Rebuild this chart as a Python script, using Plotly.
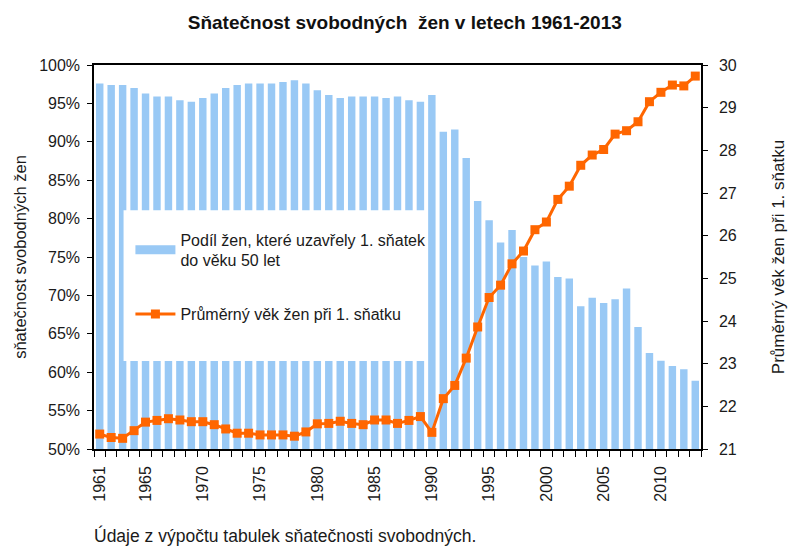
import plotly.graph_objects as go

years = list(range(1961, 2014))

# podil zen, ktere uzavrely 1. snatek do veku 50 let (%)
share_married = [
    97.6, 97.4, 97.4, 97.0, 96.3, 95.9, 95.9, 95.4, 95.2, 95.7,
    96.3, 97.0, 97.4, 97.6, 97.6, 97.6, 97.8, 98.0, 97.6, 96.7,
    96.1, 95.7, 95.9, 95.9, 95.9, 95.7, 95.9, 95.4, 95.2, 96.1,
    91.3, 91.6, 87.9, 82.3, 79.8, 76.9, 78.5, 75.0, 73.9, 74.4,
    72.4, 72.2, 68.6, 69.7, 69.0, 69.5, 70.9, 65.9, 62.5, 61.5,
    60.8, 60.4, 58.9,
]

# prumerny vek zen pri 1. snatku
mean_age = [
    21.35, 21.27, 21.25, 21.43, 21.63, 21.67, 21.71, 21.68, 21.64, 21.64,
    21.57, 21.47, 21.37, 21.37, 21.33, 21.33, 21.33, 21.30, 21.40, 21.59,
    21.60, 21.65, 21.60, 21.57, 21.68, 21.68, 21.60, 21.67, 21.76, 21.39,
    22.18, 22.49, 23.13, 23.86, 24.55, 24.84, 25.34, 25.64, 26.14, 26.32,
    26.85, 27.16, 27.65, 27.89, 28.02, 28.38, 28.46, 28.67, 29.14, 29.36,
    29.53, 29.51, 29.74,
]

x_tickvals = [1961, 1965, 1970, 1975, 1980, 1985, 1990, 1995, 2000, 2005, 2010]

BAR_NAME = "Podíl žen, které uzavřely 1. sňatek<br>do věku 50 let"
LINE_NAME = "Průměrný věk žen při 1. sňatku"

FONT = "Liberation Sans, Arial, sans-serif"
TEXT_COLOR = "#1a1a1a"
BAR_COLOR = "#99C9F5"
LINE_COLOR = "#FF6600"

fig = go.Figure()

fig.add_trace(
    go.Bar(
        x=years,
        y=share_married,
        name=BAR_NAME,
        marker=dict(color=BAR_COLOR, line=dict(width=0)),
        showlegend=False,
    )
)

# legend swatch for the bars (wide rectangle like in Excel)
fig.add_trace(
    go.Scatter(
        x=[None], y=[None], mode="lines", name=BAR_NAME,
        line=dict(color=BAR_COLOR, width=9),
        legendgroup="a",
    )
)

fig.add_trace(
    go.Scatter(
        x=years,
        y=mean_age,
        mode="lines+markers",
        name=LINE_NAME,
        line=dict(color=LINE_COLOR, width=3),
        marker=dict(symbol="square", size=9, color=LINE_COLOR),
        yaxis="y2",
        legendgroup="b",
    )
)

# white legend panel (covers the bars like in the original)
fig.add_shape(
    type="rect", xref="paper", yref="paper",
    x0=0.0487, x1=0.547, y0=0.229, y1=0.622,
    fillcolor="white", line=dict(width=0), layer="above",
)

fig.update_layout(
    width=789,
    height=538,
    margin=dict(l=84, r=69, t=57, b=97),
    paper_bgcolor="white",
    plot_bgcolor="white",
    font=dict(family=FONT, size=16, color=TEXT_COLOR),
    title=dict(
        text="<b>Sňatečnost svobodných  žen v letech 1961-2013</b>",
        xref="paper", x=0.512, xanchor="center",
        y=1 - 14 / 538, yanchor="middle",
        font=dict(family=FONT, size=19, color="#111111"),
    ),
    bargap=0.35,
    showlegend=True,
    legend=dict(
        x=0.06, y=0.59, xanchor="left", yanchor="top",
        bgcolor="rgba(0,0,0,0)",
        font=dict(family=FONT, size=16, color=TEXT_COLOR),
        tracegroupgap=30,
        traceorder="grouped",
        itemwidth=40,
    ),
    xaxis=dict(
        range=[1960.5, 2013.5],
        tickvals=x_tickvals,
        ticktext=[str(v) for v in x_tickvals],
        tickangle=-90,
        ticks="",
        ticklabelstandoff=9,
        showline=True, linecolor="#000000", linewidth=1.5,
        mirror=True,
        showgrid=False, zeroline=False,
        tickfont=dict(family=FONT, size=16),
        minor=dict(tick0=1960.5, dtick=1, ticks="outside", ticklen=6,
                   tickcolor="#000000", showgrid=False),
    ),
    yaxis=dict(
        range=[50, 100],
        dtick=5,
        ticksuffix="%",
        ticks="outside", ticklen=5, tickcolor="#000000",
        ticklabelstandoff=4,
        showline=True, linecolor="#000000", linewidth=1.5,
        showgrid=False, zeroline=False,
        tickfont=dict(family=FONT, size=16),
        title=dict(text="sňatečnost svobodných žen", standoff=8,
                   font=dict(family=FONT, size=16.5)),
    ),
    yaxis2=dict(
        range=[21, 30],
        dtick=1,
        overlaying="y",
        side="right",
        ticks="outside", ticklen=5, tickcolor="#000000",
        ticklabelstandoff=8,
        showline=True, linecolor="#000000", linewidth=1.5,
        showgrid=False, zeroline=False,
        tickfont=dict(family=FONT, size=16),
        title=dict(text=LINE_NAME, standoff=36,
                   font=dict(family=FONT, size=17)),
    ),
    annotations=[
        dict(
            text="Údaje z výpočtu tabulek sňatečnosti svobodných.",
            xref="paper", yref="paper", x=-0.003, y=-0.224,
            xanchor="left", yanchor="middle", showarrow=False,
            font=dict(family=FONT, size=17.5, color=TEXT_COLOR),
        )
    ],
)

fig.write_html("out.html")
